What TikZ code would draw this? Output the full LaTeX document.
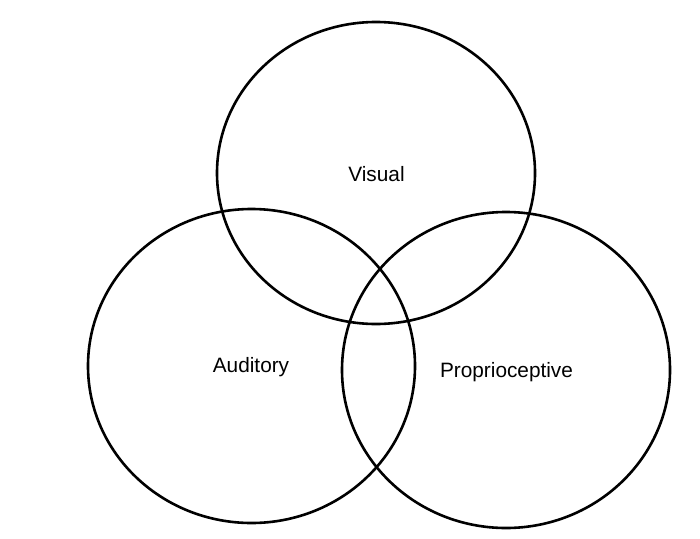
\documentclass[tikz,border=0pt]{standalone}
\usepackage{fontspec}
\setmainfont{Liberation Sans}
\begin{document}
\begin{tikzpicture}[x=1pt,y=-1pt,
  ring/.style={draw=black,line width=2.6pt},
  lbl/.style={font=\fontsize{20.8}{24}\selectfont,inner sep=0pt}]
\useasboundingbox (0,0) rectangle (700,538);
\draw[ring] (376,173) ellipse [x radius=159,y radius=151];
\draw[ring] (251.5,366) ellipse [x radius=163.5,y radius=157];
\draw[ring] (506,370) ellipse [x radius=164,y radius=158];
\node[lbl] (visual) at (376.5,174.5) {Visual};
\node[lbl] (auditory) at (251,367.5) {Auditory};
\node[lbl] (proprio) at (506.5,372.5) {Proprioceptive};
\end{tikzpicture}
\end{document}
